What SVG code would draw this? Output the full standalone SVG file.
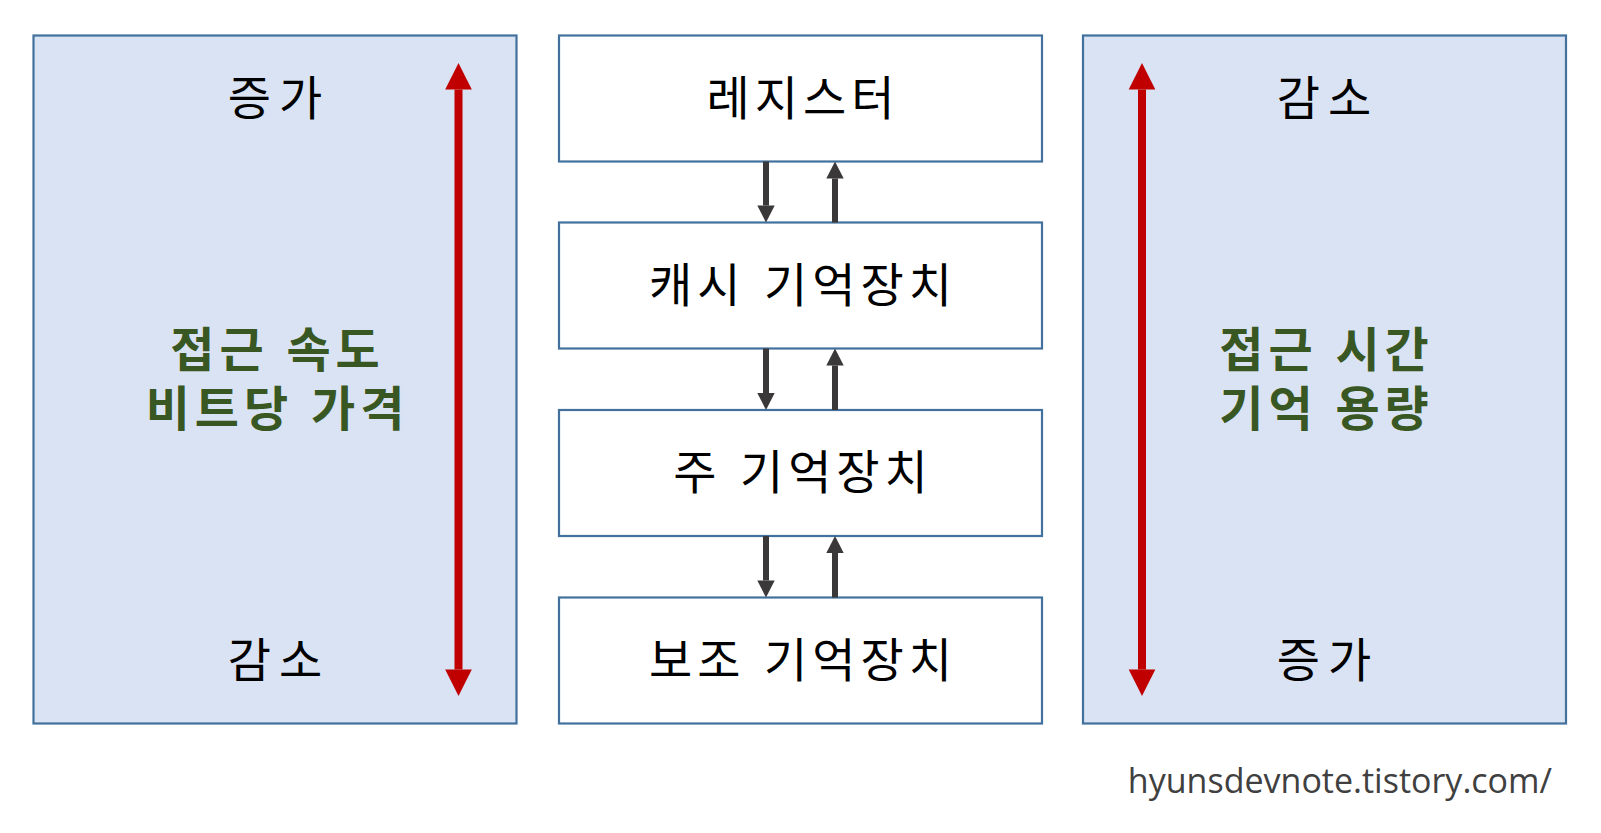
<svg xmlns="http://www.w3.org/2000/svg" width="1601" height="833" viewBox="0 0 1601 833">
<style>
.panel{fill:#DAE3F3;stroke:#41719C;stroke-width:2.2}
.box{fill:#FFFFFF;stroke:#41719C;stroke-width:2.2}
.lbl{font-family:"Noto Sans CJK KR","Noto Sans",sans-serif;font-size:47px;fill:#000;text-anchor:middle;letter-spacing:5px;word-spacing:3px}
.pair{letter-spacing:8px}
.key{font-family:"Noto Sans CJK KR","Noto Sans",sans-serif;font-size:48px;font-weight:bold;fill:#385723;text-anchor:middle;letter-spacing:5px;word-spacing:2px}
.red{stroke:#C00000;stroke-width:8;fill:none;marker-start:url(#redHead);marker-end:url(#redHead)}
.dark{stroke:#3A3838;stroke-width:6;fill:none;marker-end:url(#darkHead)}
.wm{font-family:"Open Sans","Noto Sans",sans-serif;font-size:34px;fill:#404040;text-anchor:end}
</style>
<defs>
<marker id="redHead" markerUnits="userSpaceOnUse" viewBox="0 -14 27 28" refX="0" refY="0" markerWidth="27" markerHeight="28" orient="auto-start-reverse" overflow="visible">
<path d="M0,-13.3 L26.5,0 L0,13.3 z" fill="#C00000"/>
</marker>
<marker id="darkHead" markerUnits="userSpaceOnUse" viewBox="0 -9 18 18" refX="0" refY="0" markerWidth="18" markerHeight="18" orient="auto" overflow="visible">
<path d="M0,-8.7 L17,0 L0,8.7 z" fill="#3A3838"/>
</marker>
</defs>

<g id="left-panel">
<rect class="panel" x="33.5" y="35.5" width="483" height="688"/>
<text class="lbl pair" x="279" y="115">증가</text>
<text class="key" x="277.5" y="367">접근 속도</text>
<text class="key" x="277.5" y="426">비트당 가격</text>
<text class="lbl pair" x="279" y="677">감소</text>
</g>

<g id="right-panel">
<rect class="panel" x="1083" y="35.5" width="483" height="688"/>
<text class="lbl pair" x="1328" y="115">감소</text>
<text class="key" x="1326.5" y="367">접근 시간</text>
<text class="key" x="1326.5" y="426">기억 용량</text>
<text class="lbl pair" x="1328" y="677">증가</text>
</g>

<g id="register">
<rect class="box" x="559" y="35.5" width="483" height="126"/>
<text class="lbl" x="803" y="115">레지스터</text>
</g>
<g id="cache">
<rect class="box" x="559" y="222.5" width="483" height="126"/>
<text class="lbl" x="803" y="302">캐시 기억장치</text>
</g>
<g id="main-memory">
<rect class="box" x="559" y="410" width="483" height="126"/>
<text class="lbl" x="803" y="489">주 기억장치</text>
</g>
<g id="secondary">
<rect class="box" x="559" y="597.5" width="483" height="126"/>
<text class="lbl" x="803" y="677">보조 기억장치</text>
</g>

<g id="connectors">
<line class="red" x1="458.5" y1="89.5" x2="458.5" y2="669.5"/>
<line class="red" x1="1142" y1="89.5" x2="1142" y2="669.5"/>
<line class="dark" x1="766" y1="161.5" x2="766" y2="205.5"/>
<line class="dark" x1="835" y1="222.5" x2="835" y2="178.5"/>
<line class="dark" x1="766" y1="348.5" x2="766" y2="393"/>
<line class="dark" x1="835" y1="410" x2="835" y2="365.5"/>
<line class="dark" x1="766" y1="536" x2="766" y2="580.5"/>
<line class="dark" x1="835" y1="597.5" x2="835" y2="553"/>
</g>

<text class="wm" x="1552" y="793">hyunsdevnote.tistory.com/</text>
</svg>
